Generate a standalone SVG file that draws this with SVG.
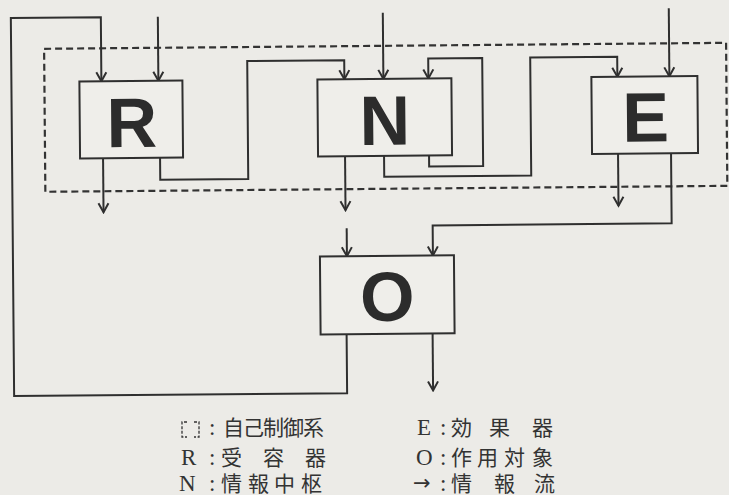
<svg xmlns="http://www.w3.org/2000/svg" width="729" height="495" viewBox="0 0 729 495">
  <style>
    .bg { fill: #ecebe7; }
    .box { fill: #efeeea; stroke: #2f2f2f; stroke-width: 2; }
    .big { font-family: "Liberation Sans", Arial, sans-serif; font-weight: bold; font-size: 70px; fill: #2c2c2c; text-anchor: middle; }
    .wire { fill: none; stroke: #2f2f2f; stroke-width: 2; stroke-linejoin: miter; }
    .arr { marker-end: url(#chev); }
    .dash { fill: none; stroke: #333; stroke-width: 2.2; stroke-dasharray: 7 4; }
    .lat { font-family: "Liberation Serif", "Times New Roman", serif; font-size: 23px; fill: #333; }
    .cjk { font-family: "Liberation Serif", "Noto Sans CJK JP", sans-serif; font-size: 21px; fill: #333; }
    .sym { font-family: "DejaVu Sans", sans-serif; font-size: 21px; fill: #333; }
  </style>
  <defs>
    <marker id="chev" markerUnits="userSpaceOnUse" viewBox="-12 -8 14 16" markerWidth="14" markerHeight="16" refX="0" refY="0" orient="auto">
      <path d="M -9 -5 L 0 0 L -9 5" fill="none" stroke="#2f2f2f" stroke-width="2"/>
    </marker>
  </defs>
  <rect class="bg" x="0" y="0" width="729" height="495"/>

  <g transform="rotate(-0.5 364 150)">
    <g id="system-boundary">
      <rect class="dash" x="45" y="46" width="682" height="143"/>
    </g>

    <g id="connectors">
      <path class="wire arr" d="M 345 334 V 393 H 12 V 15 H 102 V 79"/>
      <path class="wire arr" d="M 159 15 V 79"/>
      <path class="wire arr" d="M 103 156 V 210"/>
      <path class="wire arr" d="M 160 156 V 178 H 248 V 60 H 345 V 79"/>
      <path class="wire arr" d="M 384 13 V 79"/>
      <path class="wire arr" d="M 429 156 V 167 H 483 V 59 H 429 V 79"/>
      <path class="wire arr" d="M 345 156 V 210"/>
      <path class="wire arr" d="M 384 156 V 177 H 531 V 59 H 618 V 79"/>
      <path class="wire arr" d="M 670 11 V 79"/>
      <path class="wire arr" d="M 618 156 V 208"/>
      <path class="wire arr" d="M 671 156 V 226 H 432 V 256"/>
      <path class="wire arr" d="M 346 228 V 256"/>
      <path class="wire arr" d="M 431 334 V 391"/>
    </g>

    <g id="node-R">
      <rect class="box" x="80" y="79" width="103" height="77"/>
      <text class="big" x="132" y="145">R</text>
    </g>
    <g id="node-N">
      <rect class="box" x="318" y="79" width="134" height="77"/>
      <text class="big" x="385" y="145">N</text>
    </g>
    <g id="node-E">
      <rect class="box" x="592" y="79" width="106" height="77"/>
      <text class="big" x="646" y="144">E</text>
    </g>
    <g id="node-O">
      <rect class="box" x="319" y="256" width="134" height="78"/>
      <text class="big" x="386" y="321">O</text>
    </g>
  </g>

  <g id="legend">
    <path d="M 187 422 H 182 V 437 H 187 M 194 422 H 199 V 437 H 194" fill="none" stroke="#333" stroke-width="1.3" stroke-dasharray="3 1.6"/>
    <text class="lat" x="209" y="435">:</text>
    <text class="cjk" x="223 243 263 283 303" y="435">自己制御系</text>

    <text class="lat" x="181" y="465">R</text>
    <text class="lat" x="209" y="465">:</text>
    <text class="cjk" x="221 263 305" y="465">受容器</text>

    <text class="lat" x="179" y="491">N</text>
    <text class="lat" x="209" y="491">:</text>
    <text class="cjk" x="221 248 274 301" y="491">情報中枢</text>

    <text class="lat" x="417" y="435">E</text>
    <text class="lat" x="440" y="435">:</text>
    <text class="cjk" x="451 489 532" y="435">効果器</text>

    <text class="lat" x="416" y="465">O</text>
    <text class="lat" x="440" y="465">:</text>
    <text class="cjk" x="451 477 504 532" y="465">作用対象</text>

    <text class="sym" x="413" y="490">→</text>
    <text class="lat" x="440" y="491">:</text>
    <text class="cjk" x="451 494 534" y="491">情報流</text>
  </g>
</svg>
